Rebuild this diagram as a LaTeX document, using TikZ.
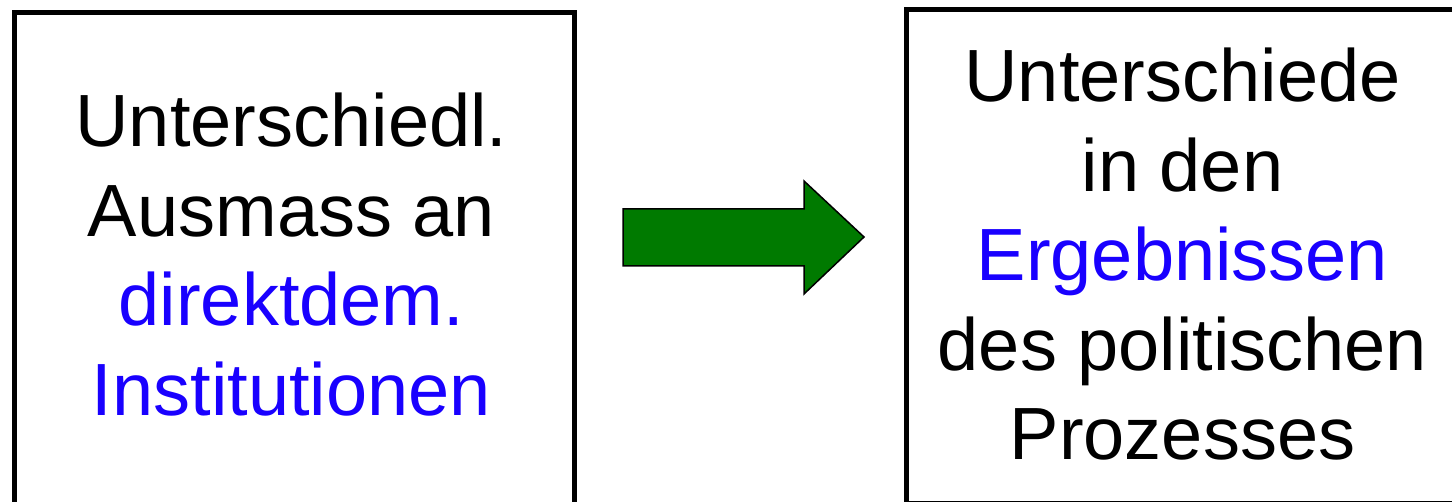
\documentclass[tikz,border=0pt]{standalone}
\usepackage{fontspec}
\setmainfont{Liberation Sans}
\definecolor{txtblue}{RGB}{25,0,255}
\definecolor{arrgreen}{RGB}{0,122,0}
\begin{document}
\begin{tikzpicture}[x=1pt,y=-1pt,
  box/.style={draw=black,line width=5pt,fill=none},
  lbl/.style={anchor=base,inner sep=0pt,font=\fontsize{74}{89}\selectfont},
  hl/.style={lbl,text=txtblue}]
\clip (0,0) rectangle (1452,502);
\useasboundingbox (0,0) rectangle (1452,502);
% boxes
\node[box,minimum width=560pt,minimum height=520pt,anchor=north west,inner sep=0pt] (L) at (11.5,10.5) {};
\node[box,minimum width=557pt,minimum height=494pt,anchor=north west,inner sep=0pt] (R) at (904,7) {};
% left text
\node[lbl] (L1) at (291.5,147) {Unterschiedl.};
\node[lbl] (L2) at (291.5,237) {Ausmass an};
\node[hl]  (L3) at (291.5,326) {direktdem.};
\node[hl]  (L4) at (291.5,416) {Institutionen};
% right text
\node[lbl] (R1) at (1182.5,102) {Unterschiede};
\node[lbl] (R2) at (1182.5,192) {in den};
\node[hl]  (R3) at (1182.5,281) {Ergebnissen};
\node[lbl] (R4) at (1182.5,371) {des politischen};
\node[lbl] (R5) at (1182.5,460) {Prozesses};
% block arrow
\draw[line width=1.5pt,fill=arrgreen,line join=miter]
  (623,209) -- (804,209) -- (804,181) -- (864,237) -- (804,294) -- (804,266) -- (623,266) -- cycle;
\end{tikzpicture}
\end{document}
